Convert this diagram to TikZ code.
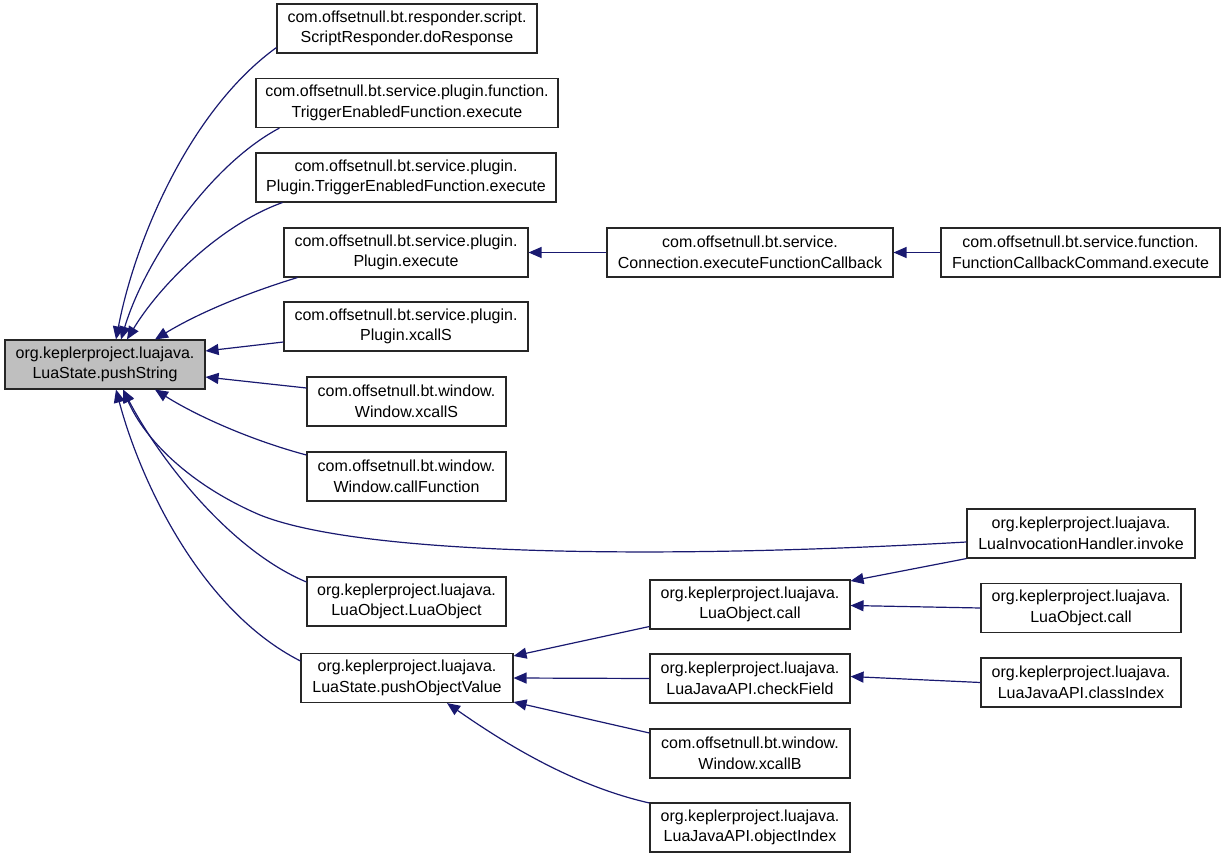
\documentclass[tikz,border=0pt]{standalone}
\usepackage{fontspec}
\setmainfont{Liberation Sans}
\usetikzlibrary{arrows.meta}
\definecolor{edgeblue}{HTML}{191970}
\definecolor{boxgray}{HTML}{BFBFBF}
\tikzset{
  fn/.style={draw=black!85, line width=1.1pt, fill=white, align=center, inner sep=0pt,
    minimum height=49pt, font=\fontsize{16}{20.5}\selectfont},
  callee/.style={fn, fill=boxgray},
  call/.style={draw=edgeblue, line width=1.2pt, -{Triangle[length=13pt,width=11pt]}},
}
\begin{document}
\begin{tikzpicture}[x=1pt,y=-1pt]
\useasboundingbox (0,0) rectangle (1227,859);
\node[callee, minimum width=200pt] (ps) at (105,364.5) {org.keplerproject.luajava.\\LuaState.pushString};
\node[fn, minimum width=260pt] (dr) at (407,28.5) {com.offsetnull.bt.responder.script.\\ScriptResponder.doResponse};
\node[fn, minimum width=302pt] (tef) at (407,103) {com.offsetnull.bt.service.plugin.function.\\TriggerEnabledFunction.execute};
\node[fn, minimum width=300pt] (ptef) at (406,177.5) {com.offsetnull.bt.service.plugin.\\Plugin.TriggerEnabledFunction.execute};
\node[fn, minimum width=244pt] (pe) at (406,252.5) {com.offsetnull.bt.service.plugin.\\Plugin.execute};
\node[fn, minimum width=286pt] (conn) at (750,252.5) {com.offsetnull.bt.service.\\Connection.executeFunctionCallback};
\node[fn, minimum width=279pt] (fcc) at (1080.5,252.5) {com.offsetnull.bt.service.function.\\FunctionCallbackCommand.execute};
\node[fn, minimum width=244pt] (pxs) at (406,326.5) {com.offsetnull.bt.service.plugin.\\Plugin.xcallS};
\node[fn, minimum width=199pt] (wxs) at (406.5,401.5) {com.offsetnull.bt.window.\\Window.xcallS};
\node[fn, minimum width=199pt] (wcf) at (406.5,476.5) {com.offsetnull.bt.window.\\Window.callFunction};
\node[fn, minimum width=228pt] (lih) at (1081,533.5) {org.keplerproject.luajava.\\LuaInvocationHandler.invoke};
\node[fn, minimum width=199pt] (lolo) at (406.5,601.5) {org.keplerproject.luajava.\\LuaObject.LuaObject};
\node[fn, minimum width=212pt] (pov) at (407,678) {org.keplerproject.luajava.\\LuaState.pushObjectValue};
\node[fn, minimum width=200pt] (loc) at (750,604.5) {org.keplerproject.luajava.\\LuaObject.call};
\node[fn, minimum width=200pt] (locr) at (1081,608) {org.keplerproject.luajava.\\LuaObject.call};
\node[fn, minimum width=200pt] (cf) at (750,678.5) {org.keplerproject.luajava.\\LuaJavaAPI.checkField};
\node[fn, minimum width=200pt] (ci) at (1081,682.5) {org.keplerproject.luajava.\\LuaJavaAPI.classIndex};
\node[fn, minimum width=200pt] (xb) at (750,753.5) {com.offsetnull.bt.window.\\Window.xcallB};
\node[fn, minimum width=200pt] (oi) at (750,827.5) {org.keplerproject.luajava.\\LuaJavaAPI.objectIndex};

% callers of pushString (top side)
\draw[call] ([yshift=6pt]dr.south west) .. controls (190,110) and (135,240) .. ([xshift=11pt]ps.north);
\draw[call] ([xshift=24pt]tef.south west) .. controls (210,165) and (145,260) .. ([xshift=16pt]ps.north);
\draw[call] ([xshift=27pt]ptef.south west) .. controls (220,225) and (160,285) .. ([xshift=22pt]ps.north);
\draw[call] ([xshift=14pt]pe.south west) .. controls (250,292) and (200,312) .. ([xshift=50pt]ps.north);
\draw[call] ([yshift=-15.5pt]pxs.west) -- ([yshift=13.5pt]ps.east);
\draw[call] ([yshift=13.5pt]wxs.west) -- ([yshift=-12.5pt]ps.east);
% callers of pushString (bottom side)
\draw[call] ([yshift=21.5pt]wcf.west) .. controls (250,440) and (195,415) .. ([xshift=50pt]ps.south);
\draw[call] ([yshift=-8.5pt]lih.west) .. controls (650,560) and (360,555) .. (260,515)
   .. controls (190,485) and (145,440) .. ([xshift=18pt]ps.south);
\draw[call] ([yshift=19.5pt]lolo.west) .. controls (230,550) and (160,460) .. ([xshift=18pt]ps.south);
\draw[call] ([yshift=17pt]pov.west) .. controls (200,610) and (140,480) .. ([xshift=11pt]ps.south);
% other calls
\draw[call] (conn.west) -- (pe.east);
\draw[call] (fcc.west) -- (conn.east);
\draw[call] ([yshift=-22pt]loc.west) -- ([yshift=22pt]pov.east);
\draw[call] (cf.west) -- (pov.east);
\draw[call] ([yshift=20.5pt]xb.west) -- ([yshift=-24pt]pov.east);
\draw[call] ([yshift=24.5pt]oi.west) .. controls (570,785) and (500,740) .. ([xshift=40pt]pov.south);
\draw[call] (lih.south west) -- ([yshift=23.5pt]loc.east);
\draw[call] (locr.west) -- ([yshift=-1pt]loc.east);
\draw[call] (ci.west) -- ([yshift=2pt]cf.east);
\end{tikzpicture}
\end{document}
